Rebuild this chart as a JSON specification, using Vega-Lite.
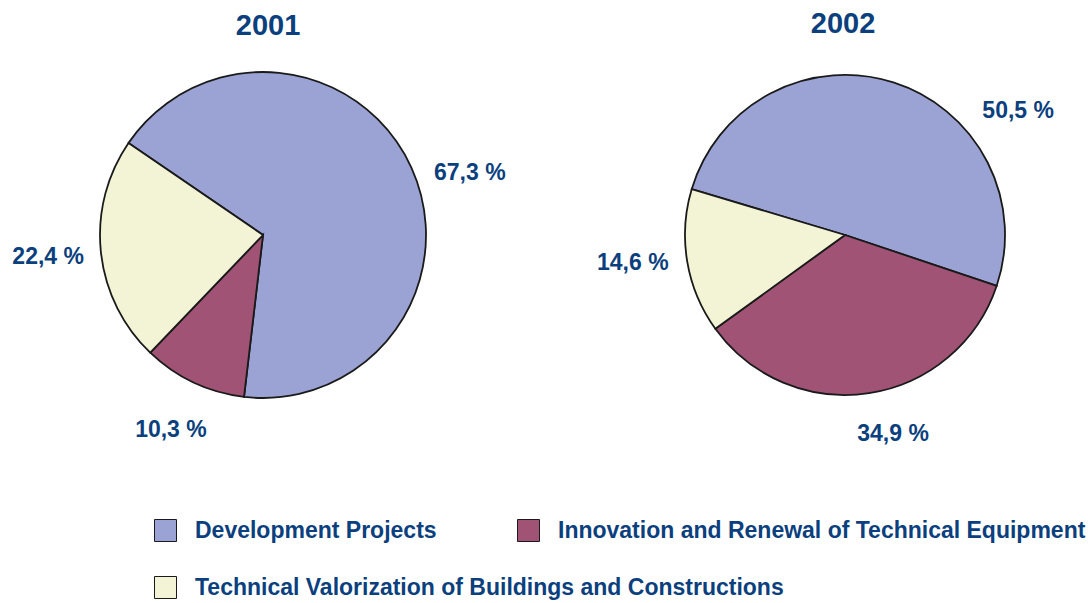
{
  "$schema": "https://vega.github.io/schema/vega-lite/v6.json",
  "padding": {"top": 9, "left": 0, "right": 0, "bottom": 0},
  "background": "white",
  "bounds": "flush",
  "config": {"view": {"stroke": null}, "font": "Liberation Sans", "legend": {"padding": 0}},
  "datasets": {
    "shares": [
      {"year": "2001", "cat": "Development Projects", "value": 67.3, "label": "67,3 %"},
      {"year": "2001", "cat": "Innovation and Renewal of Technical Equipment", "value": 10.3, "label": "10,3 %"},
      {"year": "2001", "cat": "Technical Valorization of Buildings and Constructions", "value": 22.4, "label": "22,4 %"},
      {"year": "2002", "cat": "Development Projects", "value": 50.5, "label": "50,5 %"},
      {"year": "2002", "cat": "Innovation and Renewal of Technical Equipment", "value": 34.9, "label": "34,9 %"},
      {"year": "2002", "cat": "Technical Valorization of Buildings and Constructions", "value": 14.6, "label": "14,6 %"}
    ]
  },
  "spacing": 76,
  "hconcat": [
    {
      "width": 526,
      "height": 388,
      "title": {"text": "2001", "fontSize": 29, "fontWeight": "bold", "color": "#0b3f7d", "anchor": "middle", "dx": 5, "offset": 0, "frame": "group"},
      "data": {"name": "shares"},
      "transform": [{"filter": "datum.year == '2001'"}],
      "encoding": {
        "theta": {"field": "value", "type": "quantitative", "stack": true, "scale": {"range": [5.313, 11.596]}},
        "order": {"field": "cat", "type": "ordinal"}
      },
      "layer": [
        {
          "mark": {"type": "arc", "outerRadius": 163, "stroke": "#1a1a1a", "strokeWidth": 1.8},
          "encoding": {
            "fill": {
              "field": "cat", "type": "nominal",
              "scale": {
                "domain": ["Development Projects", "Innovation and Renewal of Technical Equipment", "Technical Valorization of Buildings and Constructions"],
                "range": ["#9ba3d4", "#a05374", "#f3f3d5"]
              },
              "legend": {
                "title": null, "orient": "none", "legendX": 154, "legendY": 478,
                "direction": "vertical",
                "values": ["Development Projects", "Technical Valorization of Buildings and Constructions"],
                "symbolType": "square", "symbolSize": 484, "symbolStrokeColor": "#1a1a1a", "symbolStrokeWidth": 1,
                "symbolOpacity": 1,
                "labelFontSize": 23, "labelFontWeight": "bold", "labelColor": "#0b3f7d", "labelFont": "Liberation Sans",
                "labelOffset": 18, "rowPadding": 30, "labelLimit": 700
              }
            }
          }
        },
        {
          "mark": {"type": "text", "radius": 216, "fontWeight": "bold", "color": "#0b3f7d"},
          "encoding": {
            "detail": {"field": "cat"},
            "text": {"condition": {"test": "datum.cat != 'Development Projects'", "field": "label"}, "value": ""},
            "size": {"condition": {"test": "datum.cat == 'Development Projects'", "value": 0}, "value": 23}
          }
        },
        {
          "mark": {"type": "text", "radius": 216, "thetaOffset": 0.134, "fontWeight": "bold", "color": "#0b3f7d"},
          "encoding": {
            "detail": {"field": "cat"},
            "text": {"condition": {"test": "datum.cat == 'Development Projects'", "field": "label"}, "value": ""},
            "size": {"condition": {"test": "datum.cat == 'Development Projects'", "value": 23}, "value": 0}
          }
        }
      ]
    },
    {
      "width": 486,
      "height": 388,
      "title": {"text": "2002", "fontSize": 29, "fontWeight": "bold", "color": "#0b3f7d", "anchor": "middle", "dx": -2, "offset": -5, "frame": "group"},
      "data": {"name": "shares"},
      "transform": [{"filter": "datum.year == '2002'"}],
      "encoding": {
        "theta": {"field": "value", "type": "quantitative", "stack": true, "scale": {"range": [5.004, 11.287]}},
        "order": {"field": "cat", "type": "ordinal"}
      },
      "layer": [
        {
          "mark": {"type": "arc", "outerRadius": 160, "stroke": "#1a1a1a", "strokeWidth": 1.8},
          "encoding": {
            "color": {
              "field": "cat", "type": "nominal",
              "scale": {
                "domain": ["Innovation and Renewal of Technical Equipment", "Development Projects", "Technical Valorization of Buildings and Constructions"],
                "range": ["#a05374", "#9ba3d4", "#f3f3d5"]
              },
              "legend": {
                "title": null, "orient": "none", "legendX": 517, "legendY": 478,
                "direction": "vertical",
                "values": ["Innovation and Renewal of Technical Equipment"],
                "symbolType": "square", "symbolSize": 484, "symbolStrokeColor": "#1a1a1a", "symbolStrokeWidth": 1,
                "symbolOpacity": 1,
                "labelFontSize": 23, "labelFontWeight": "bold", "labelColor": "#0b3f7d", "labelFont": "Liberation Sans",
                "labelOffset": 18, "labelLimit": 700
              }
            }
          }
        },
        {
          "mark": {"type": "text", "radius": 214, "thetaOffset": 0.037, "fontWeight": "bold", "color": "#0b3f7d"},
          "encoding": {
            "detail": {"field": "cat"},
            "text": {"condition": {"test": "datum.cat == 'Technical Valorization of Buildings and Constructions'", "field": "label"}, "value": ""},
            "size": {"condition": {"test": "datum.cat == 'Technical Valorization of Buildings and Constructions'", "value": 23}, "value": 0}
          }
        },
        {
          "mark": {"type": "text", "radius": 205, "thetaOffset": -0.085, "fontWeight": "bold", "color": "#0b3f7d"},
          "encoding": {
            "detail": {"field": "cat"},
            "text": {"condition": {"test": "datum.cat == 'Innovation and Renewal of Technical Equipment'", "field": "label"}, "value": ""},
            "size": {"condition": {"test": "datum.cat == 'Innovation and Renewal of Technical Equipment'", "value": 23}, "value": 0}
          }
        },
        {
          "mark": {"type": "text", "radius": 213, "thetaOffset": 0.642, "fontWeight": "bold", "color": "#0b3f7d"},
          "encoding": {
            "detail": {"field": "cat"},
            "text": {"condition": {"test": "datum.cat == 'Development Projects'", "field": "label"}, "value": ""},
            "size": {"condition": {"test": "datum.cat == 'Development Projects'", "value": 23}, "value": 0}
          }
        }
      ]
    }
  ]
}
